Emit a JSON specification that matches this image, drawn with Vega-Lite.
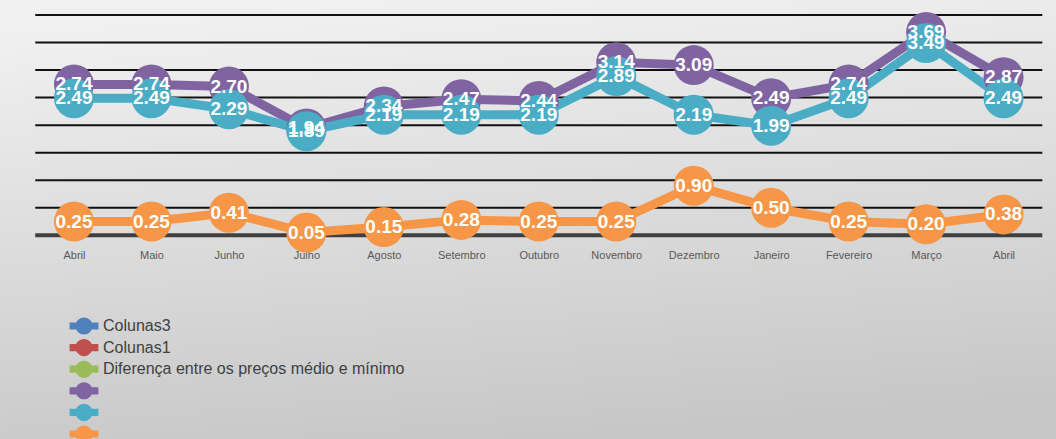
{
  "$schema": "https://vega.github.io/schema/vega-lite/v6.json",
  "width": 1056,
  "height": 439,
  "padding": 0,
  "autosize": {"type": "none"},
  "background": "#d8d8d8",
  "view": {
    "stroke": null,
    "fill": {
      "gradient": "linear",
      "x1": 0.4, "y1": 0, "x2": 0.6, "y2": 1,
      "stops": [
        {"offset": 0, "color": "#f0f0f0"},
        {"offset": 1, "color": "#c6c6c6"}
      ]
    }
  },
  "datasets": {
    "prices": [
      {"i": 0, "month": "Abril", "series": "Preço médio", "value": 2.74},
      {"i": 1, "month": "Maio", "series": "Preço médio", "value": 2.74},
      {"i": 2, "month": "Junho", "series": "Preço médio", "value": 2.70},
      {"i": 3, "month": "Julho", "series": "Preço médio", "value": 1.94},
      {"i": 4, "month": "Agosto", "series": "Preço médio", "value": 2.34},
      {"i": 5, "month": "Setembro", "series": "Preço médio", "value": 2.47},
      {"i": 6, "month": "Outubro", "series": "Preço médio", "value": 2.44},
      {"i": 7, "month": "Novembro", "series": "Preço médio", "value": 3.14},
      {"i": 8, "month": "Dezembro", "series": "Preço médio", "value": 3.09},
      {"i": 9, "month": "Janeiro", "series": "Preço médio", "value": 2.49},
      {"i": 10, "month": "Fevereiro", "series": "Preço médio", "value": 2.74},
      {"i": 11, "month": "Março", "series": "Preço médio", "value": 3.69},
      {"i": 12, "month": "Abril", "series": "Preço médio", "value": 2.87},
      {"i": 0, "month": "Abril", "series": "Preço mínimo", "value": 2.49},
      {"i": 1, "month": "Maio", "series": "Preço mínimo", "value": 2.49},
      {"i": 2, "month": "Junho", "series": "Preço mínimo", "value": 2.29},
      {"i": 3, "month": "Julho", "series": "Preço mínimo", "value": 1.89},
      {"i": 4, "month": "Agosto", "series": "Preço mínimo", "value": 2.19},
      {"i": 5, "month": "Setembro", "series": "Preço mínimo", "value": 2.19},
      {"i": 6, "month": "Outubro", "series": "Preço mínimo", "value": 2.19},
      {"i": 7, "month": "Novembro", "series": "Preço mínimo", "value": 2.89},
      {"i": 8, "month": "Dezembro", "series": "Preço mínimo", "value": 2.19},
      {"i": 9, "month": "Janeiro", "series": "Preço mínimo", "value": 1.99},
      {"i": 10, "month": "Fevereiro", "series": "Preço mínimo", "value": 2.49},
      {"i": 11, "month": "Março", "series": "Preço mínimo", "value": 3.49},
      {"i": 12, "month": "Abril", "series": "Preço mínimo", "value": 2.49},
      {"i": 0, "month": "Abril", "series": "Diferença entre os preços médio e mínimo", "value": 0.25},
      {"i": 1, "month": "Maio", "series": "Diferença entre os preços médio e mínimo", "value": 0.25},
      {"i": 2, "month": "Junho", "series": "Diferença entre os preços médio e mínimo", "value": 0.41},
      {"i": 3, "month": "Julho", "series": "Diferença entre os preços médio e mínimo", "value": 0.05},
      {"i": 4, "month": "Agosto", "series": "Diferença entre os preços médio e mínimo", "value": 0.15},
      {"i": 5, "month": "Setembro", "series": "Diferença entre os preços médio e mínimo", "value": 0.28},
      {"i": 6, "month": "Outubro", "series": "Diferença entre os preços médio e mínimo", "value": 0.25},
      {"i": 7, "month": "Novembro", "series": "Diferença entre os preços médio e mínimo", "value": 0.25},
      {"i": 8, "month": "Dezembro", "series": "Diferença entre os preços médio e mínimo", "value": 0.90},
      {"i": 9, "month": "Janeiro", "series": "Diferença entre os preços médio e mínimo", "value": 0.50},
      {"i": 10, "month": "Fevereiro", "series": "Diferença entre os preços médio e mínimo", "value": 0.25},
      {"i": 11, "month": "Março", "series": "Diferença entre os preços médio e mínimo", "value": 0.20},
      {"i": 12, "month": "Abril", "series": "Diferença entre os preços médio e mínimo", "value": 0.38}
    ],
    "grid": [
      {"v": 0.5}, {"v": 1.0}, {"v": 1.5}, {"v": 2.0},
      {"v": 2.5}, {"v": 3.0}, {"v": 3.5}, {"v": 4.0}
    ]
  },
  "layer": [
    {
      "data": {"name": "grid"},
      "mark": {"type": "rule", "color": "#111111", "strokeWidth": 2},
      "encoding": {
        "x": {
          "datum": -0.5, "type": "quantitative",
          "scale": {"domain": [-0.955, 12.677], "nice": false, "zero": false},
          "axis": {
            "values": [0, 1, 2, 3, 4, 5, 6, 7, 8, 9, 10, 11, 12],
            "labelExpr": "datum.value == 0 ? 'Abril' : datum.value == 1 ? 'Maio' : datum.value == 2 ? 'Junho' : datum.value == 3 ? 'Julho' : datum.value == 4 ? 'Agosto' : datum.value == 5 ? 'Setembro' : datum.value == 6 ? 'Outubro' : datum.value == 7 ? 'Novembro' : datum.value == 8 ? 'Dezembro' : datum.value == 9 ? 'Janeiro' : datum.value == 10 ? 'Fevereiro' : datum.value == 11 ? 'Março' : 'Abril'",
            "orient": "bottom", "offset": -204, "domain": false, "ticks": false, "grid": false,
            "labelPadding": 14, "labelFontSize": 11, "labelColor": "#595959", "labelFont": "Liberation Sans",
            "title": null, "labelFlush": false, "labelOverlap": false
          }
        },
        "x2": {"datum": 12.5},
        "y": {"field": "v", "type": "quantitative", "scale": {"domain": [-3.698, 4.272], "nice": false, "zero": false}, "axis": null}
      }
    },
    {
      "data": {"values": [{"v": 0}]},
      "mark": {"type": "rule", "color": "#404040", "strokeWidth": 4},
      "encoding": {
        "x": {"datum": -0.5, "type": "quantitative"},
        "x2": {"datum": 12.5},
        "y": {"field": "v", "type": "quantitative"}
      }
    },
    {
      "data": {"name": "prices"},
      "mark": {"type": "line", "strokeWidth": 9},
      "encoding": {
        "x": {"field": "i", "type": "quantitative"},
        "y": {"field": "value", "type": "quantitative"},
        "stroke": {
          "field": "series", "type": "nominal",
          "scale": {"domain": ["Preço médio", "Preço mínimo", "Diferença entre os preços médio e mínimo"], "range": ["#8064a2", "#4bacc6", "#f79646"]},
          "legend": null
        }
      }
    },
    {
      "data": {"name": "prices"},
      "mark": {"type": "circle", "size": 1600, "opacity": 1},
      "encoding": {
        "x": {"field": "i", "type": "quantitative"},
        "y": {"field": "value", "type": "quantitative"},
        "color": {
          "field": "series", "type": "nominal",
          "scale": {
            "domain": ["Colunas3", "Colunas1", "Colunas2", "Preço médio", "Preço mínimo", "Diferença entre os preços médio e mínimo"],
            "range": ["#4f81bd", "#c0504d", "#9bbb59", "#8064a2", "#4bacc6", "#f79646"]
          },
          "legend": {
            "orient": "none", "legendX": 75, "legendY": 317, "title": null, "direction": "vertical",
            "symbolType": "M-1.6,-0.4L1.6,-0.4L1.6,0.4L-1.6,0.4Z M0.95,0A0.95,0.95 0 1 1 -0.95,0A0.95,0.95 0 1 1 0.95,0Z",
            "symbolSize": 324, "symbolStrokeWidth": 0, "symbolOpacity": 1,
            "labelFont": "Liberation Sans", "labelFontSize": 16, "labelColor": "#404040",
            "labelOffset": 10, "rowPadding": 3.6, "labelLimit": 700, "padding": 0,
            "labelExpr": "datum.label == 'Colunas2' ? 'Diferença entre os preços médio e mínimo' : ((datum.label == 'Colunas3' || datum.label == 'Colunas1') ? datum.label : '')"
          }
        }
      }
    },
    {
      "data": {"name": "prices"},
      "mark": {"type": "text", "color": "#ffffff", "font": "Liberation Sans", "fontWeight": "bold", "fontSize": 19, "align": "center", "baseline": "middle"},
      "encoding": {
        "x": {"field": "i", "type": "quantitative"},
        "y": {"field": "value", "type": "quantitative"},
        "text": {"field": "value", "type": "quantitative", "format": ".2f"}
      }
    }
  ]
}
